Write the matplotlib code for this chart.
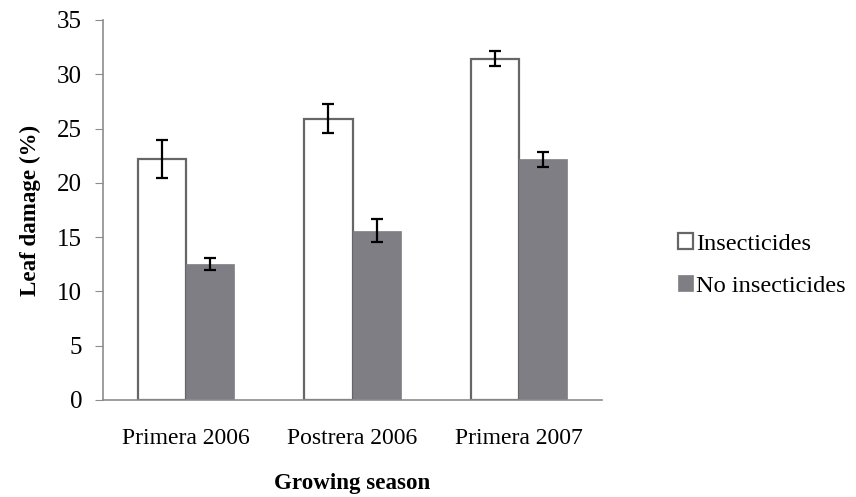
import matplotlib.pyplot as plt
import numpy as np

# Leaf damage per growing season, mean and error
SEASONS = ["Primera 2006", "Postrera 2006", "Primera 2007"]
INSECTICIDES = [22.2, 25.9, 31.45]
INSECTICIDES_ERR = [1.75, 1.35, 0.7]
NO_INSECTICIDES = [12.5, 15.6, 22.15]
NO_INSECTICIDES_ERR = [0.55, 1.05, 0.7]

plt.rcParams["font.family"] = ["Liberation Serif", "DejaVu Serif"]

AXIS_GREY = "#8c8c8c"

fig = plt.figure(figsize=(8.56, 4.97), dpi=100)
ax = fig.add_axes([0.1203, 0.1952, 0.583, 0.7646])

x = np.arange(len(SEASONS))
w = 0.29
err_kw = dict(ecolor="black", elinewidth=1.6, capsize=4, capthick=1.6)

ax.bar(x - w / 2, INSECTICIDES, w, yerr=INSECTICIDES_ERR, color="white",
       edgecolor="#666666", linewidth=1.6, label="Insecticides", error_kw=err_kw)
ax.bar(x + w / 2, NO_INSECTICIDES, w, yerr=NO_INSECTICIDES_ERR, color="#7e7e84",
       edgecolor="#7e7e84", linewidth=0.5, label="No insecticides", error_kw=err_kw)

ax.set_xlim(-0.5, 2.5)
ax.set_ylim(0, 35)
ax.set_yticks(range(0, 36, 5))
ax.set_xticks(x)
ax.set_xticklabels(SEASONS)

for side in ["top", "right"]:
    ax.spines[side].set_visible(False)
for side in ["left", "bottom"]:
    ax.spines[side].set_color(AXIS_GREY)
    ax.spines[side].set_linewidth(1.2)

ax.tick_params(axis="y", direction="out", length=6, color=AXIS_GREY, labelsize=18, pad=9)
ax.tick_params(axis="x", length=0, labelsize=17, pad=20.5)

ax.set_ylabel("Leaf damage (%)", fontsize=16.6, fontweight="bold", labelpad=11.5)
ax.set_xlabel("Growing season", fontsize=16.6, fontweight="bold", labelpad=17)

leg = fig.legend(loc="center left", bbox_to_anchor=(0.792, 0.467), frameon=False,
                 fontsize=17.6, handlelength=0.6, handleheight=0.6, handletextpad=0.15,
                 labelspacing=0.85, borderpad=0, borderaxespad=0)

fig.savefig("out.png", dpi=100)
